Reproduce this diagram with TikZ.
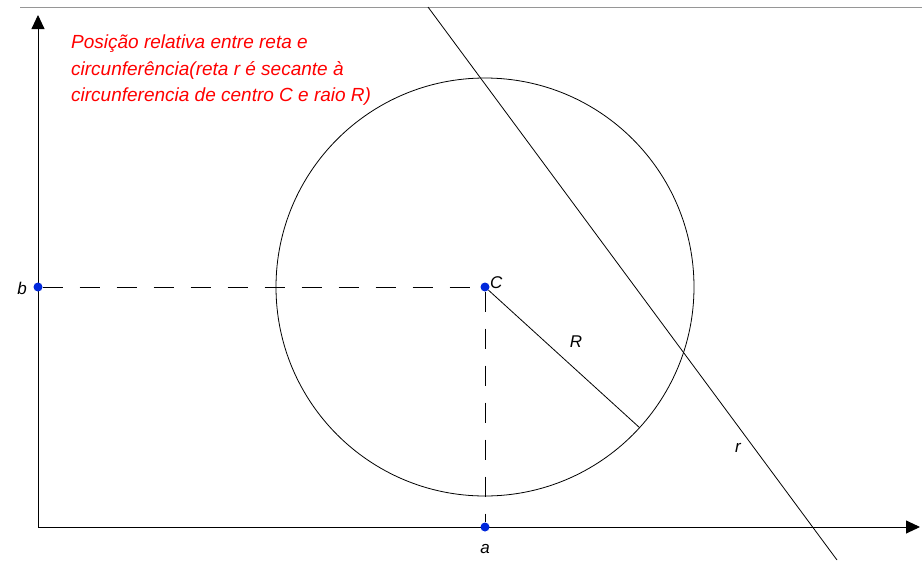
\documentclass[tikz,border=0pt]{standalone}
\usepackage{fontspec}
\setmainfont{Liberation Sans}
\usetikzlibrary{arrows.meta, calc}
\definecolor{PtBlue}{RGB}{0, 40, 220}
\definecolor{NoteRed}{RGB}{255, 0, 0}
\definecolor{FrameGray}{RGB}{150, 150, 150}

\begin{document}
\begin{tikzpicture}[x=1pt,y=-1pt,
    axis/.style={line width=0.9pt, -{Triangle[length=14pt, width=13pt]}},
    guide/.style={line width=0.9pt, dash pattern=on 20pt off 17pt},
    thin/.style={line width=0.8pt},
    pt/.style={circle, fill=PtBlue, inner sep=0pt, minimum size=9pt},
    lbl/.style={font=\itshape\fontsize{17}{19}\selectfont, inner sep=1pt}]
  \path[use as bounding box] (0,0) rectangle (922,563);
  \fill[white] (0,0) rectangle (922,563);
  \draw[FrameGray, line width=0.9pt] (20,7) -- (922,7);

  % Axes
  \coordinate (O) at (38,527);
  \draw[axis] (O) -- (38,15);
  \draw[axis] (O) -- (920,527);

  % Circle of centre C and radius R
  \coordinate (Ctr) at (485,287);
  \draw[thin] (Ctr) circle (209);
  \coordinate (Rend) at ($(Ctr)+(42.3:209)$);

  % Points
  \node[pt] (C) at (Ctr) {};
  \node[pt] (b) at (38,287) {};
  \node[pt] (a) at (485,527) {};
  \draw[guide] (b) -- (C);
  \draw[guide] (C) -- (a);
  \draw[thin] (C) -- (Rend);

  % Secant line r
  \coordinate (rtop) at (428,7);
  \coordinate (rbot) at (837,560);
  \draw[thin] (rtop) -- (rbot);

  % Labels
  \node[lbl, anchor=west] (Clbl) at (489,283) {C};
  \node[lbl, anchor=east] (blbl) at (28,288) {b};
  \node[lbl] (albl) at (485,549) {a};
  \node[lbl] (Rlbl) at (576,342) {R};
  \node[lbl] (rlbl) at (738,448) {r};
  \node[anchor=north west, align=left, text=NoteRed, inner sep=0pt,
        font=\itshape\fontsize{19}{26.5}\selectfont] (note) at (71,35) {
    Posição relativa entre reta e\\
    circunferência(reta r é secante à\\
    circunferencia de centro C e raio R)};
\end{tikzpicture}
\end{document}
